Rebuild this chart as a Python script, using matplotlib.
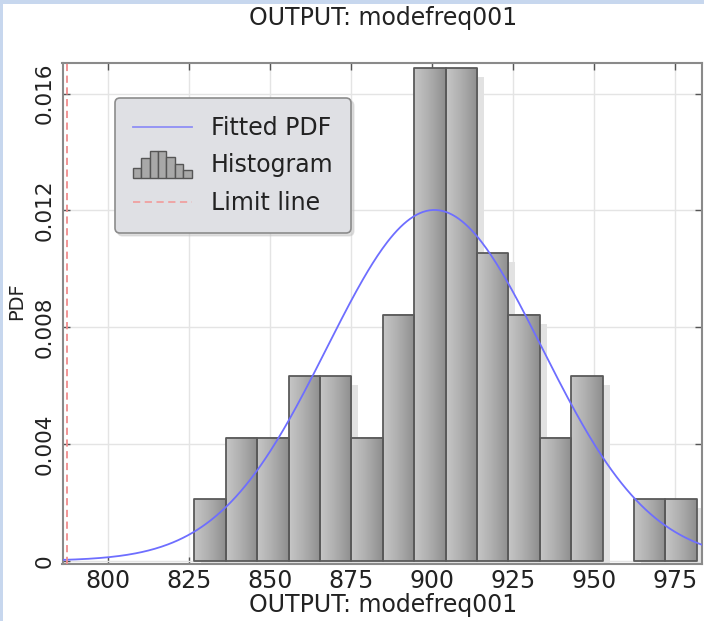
import numpy as np
import matplotlib
matplotlib.use("Agg")
import matplotlib.pyplot as plt
import matplotlib.transforms as mtransforms
from matplotlib.patches import Rectangle
from matplotlib.lines import Line2D
from matplotlib.colors import LinearSegmentedColormap
from matplotlib.legend_handler import HandlerBase

# DATA
bin_start = 826.8
bin_width = 9.68
counts = [1, 2, 2, 3, 3, 2, 4, 8, 8, 5, 4, 2, 3, 0, 1, 1]
fit_mean = 900.8
fit_std = 33.2
limit_value = 787.6
x_ticks = [800, 825, 850, 875, 900, 925, 950, 975]
y_ticks = [0, 0.004, 0.008, 0.012, 0.016]
y_tick_labels = ["0", "0.004", "0.008", "0.012", "0.016"]
title_text = "OUTPUT: modefreq001"

plt.rcParams['font.family'] = ['DejaVu Sans']

fig = plt.figure(figsize=(7.04, 6.21), dpi=100)
fig.patch.set_facecolor("white")
# light blue frame of the screenshot
fig.add_artist(Rectangle((0, 1 - 4 / 621), 1, 4 / 621, transform=fig.transFigure,
                         facecolor="#c7d7ee", edgecolor="none"))
fig.add_artist(Rectangle((0, 0), 3 / 704, 1, transform=fig.transFigure,
                         facecolor="#c7d7ee", edgecolor="none"))

ax = fig.add_axes([62.5 / 704, 1 - 564 / 621, (702 - 62.5) / 704, (564 - 63) / 621])

n_total = sum(counts)
dens = [c / (n_total * bin_width) for c in counts]
edges = [bin_start + i * bin_width for i in range(len(counts) + 1)]

# HISTOGRAM
grad = LinearSegmentedColormap.from_list("bar", ["#c6c6c6", "#adadad", "#8e8e8e"])
shadow_tr = mtransforms.offset_copy(ax.transData, fig=fig, x=7, y=-9, units="dots")
for i, h in enumerate(dens):
    if h <= 0:
        continue
    x0, x1 = edges[i], edges[i + 1]
    ax.add_patch(Rectangle((x0, 0), x1 - x0, h, transform=shadow_tr,
                           facecolor="#e2e2e2", edgecolor="none", zorder=2))
for i, h in enumerate(dens):
    if h <= 0:
        continue
    x0, x1 = edges[i], edges[i + 1]
    ax.imshow(np.linspace(0, 1, 64).reshape(1, -1), cmap=grad, aspect="auto",
              extent=[x0, x1, 0, h], interpolation="bilinear", zorder=3)
    ax.add_patch(Rectangle((x0, 0), x1 - x0, h, facecolor="none",
                           edgecolor="#5a5a5a", linewidth=1.3, joinstyle="round", zorder=4))

# FITTED PDF
xs = np.linspace(785, 985, 400)
pdf = np.exp(-0.5 * ((xs - fit_mean) / fit_std) ** 2) / (fit_std * np.sqrt(2 * np.pi))
ax.plot(xs, pdf, color="#6e6eff", linewidth=1.3, zorder=5)

# LIMIT LINE
ax.axvline(limit_value, color="#f08c8c", linewidth=1.3, linestyle=(0, (4, 2.5)), zorder=5)

ax.set_xlim(786.1, 983.3)
ax.set_ylim(-0.00011, 0.01705)
ax.set_xticks(x_ticks)
ax.set_yticks(y_ticks)
ax.set_yticklabels(y_tick_labels, rotation=90, va="center")
ax.tick_params(direction="in", length=5, width=1, colors="#555555", labelcolor="#222222",
               top=True, right=True, labelsize=17)
ax.tick_params(axis="y", labelsize=15.5, pad=6)
ax.grid(True, color="#e4e4e4", linewidth=1, zorder=0)
ax.set_axisbelow(True)
for s in ax.spines.values():
    s.set_color("#8a8a8a")
    s.set_linewidth(1.5)

fig.text(383 / 704, 1 - 18 / 621, title_text, ha="center", va="center", fontsize=17, color="#222222")
fig.text(383 / 704, 1 - 605 / 621, title_text, ha="center", va="center", fontsize=17, color="#222222")
fig.text(17 / 704, 1 - 301 / 621, "PDF", ha="center", va="center", rotation=90, fontsize=14, color="#222222")


# LEGEND
class HistHandler(HandlerBase):
    def create_artists(self, legend, orig_handle, xdescent, ydescent, width, height, fontsize, trans):
        hs = [0.35, 0.7, 0.95, 0.95, 0.75, 0.5, 0.3]
        bw = width / len(hs)
        arts = []
        for k, hh in enumerate(hs):
            r = Rectangle((-xdescent + k * bw, -ydescent - 0.35 * height), bw, hh * height * 1.75,
                          facecolor="#a8a8a8", edgecolor="#555555", linewidth=1, transform=trans)
            arts.append(r)
        return arts


hist_handle = Rectangle((0, 0), 1, 1)
handles = [Line2D([], [], color="#8f8ff5", linewidth=1.3), hist_handle,
           Line2D([], [], color="#f0a0a0", linewidth=1.3, linestyle=(0, (4, 2.5)))]
leg = ax.legend(handles, ["Fitted PDF", "Histogram", "Limit line"],
                handler_map={Rectangle: HistHandler()},
                loc="upper left", bbox_to_anchor=(0.082, 0.930), fontsize=17,
                frameon=True, fancybox=True, shadow={"color": "#c4c4c4"},
                facecolor="#dfe0e4", edgecolor="#8c8c8c", framealpha=1,
                handlelength=2.5, handletextpad=0.8, labelspacing=0.58,
                borderpad=0.75, borderaxespad=0)
leg.get_frame().set_linewidth(1.2)
for t in leg.get_texts():
    t.set_color("#222222")
leg.set_zorder(10)

fig.savefig("out.png", dpi=100)
